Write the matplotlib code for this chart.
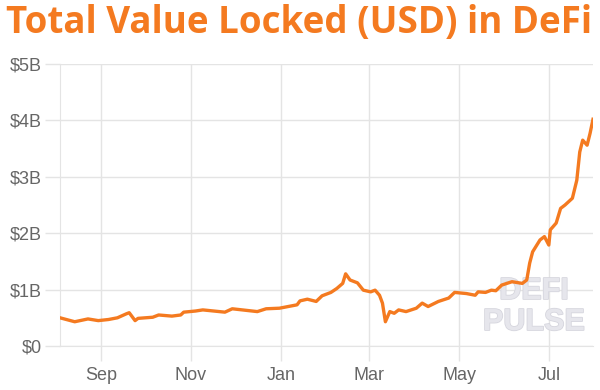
import matplotlib
matplotlib.use("Agg")
import matplotlib.pyplot as plt
import matplotlib.dates as mdates
import matplotlib.patheffects as pe
import numpy as np
import pandas as pd

# TVL in billions USD
dates = [
    "2019-08-04", "2019-08-14", "2019-08-23", "2019-08-30", "2019-09-06",
    "2019-09-12", "2019-09-18", "2019-09-20", "2019-09-24", "2019-09-26",
    "2019-10-06", "2019-10-10", "2019-10-19", "2019-10-25", "2019-10-27",
    "2019-11-04", "2019-11-09", "2019-11-24", "2019-11-29", "2019-12-16",
    "2019-12-22", "2019-12-31", "2020-01-12", "2020-01-14", "2020-01-19",
    "2020-01-25", "2020-01-29", "2020-02-04", "2020-02-08", "2020-02-12",
    "2020-02-14", "2020-02-17", "2020-02-22", "2020-02-26", "2020-03-02",
    "2020-03-05", "2020-03-08", "2020-03-10", "2020-03-12", "2020-03-15",
    "2020-03-18", "2020-03-21", "2020-03-26", "2020-04-02", "2020-04-06",
    "2020-04-10", "2020-04-17", "2020-04-24", "2020-04-28", "2020-05-06",
    "2020-05-12", "2020-05-14", "2020-05-19", "2020-05-23", "2020-05-26",
    "2020-05-30", "2020-06-06", "2020-06-13", "2020-06-16", "2020-06-18",
    "2020-06-20", "2020-06-25", "2020-06-28", "2020-07-01", "2020-07-02",
    "2020-07-06", "2020-07-09", "2020-07-12", "2020-07-17", "2020-07-20",
    "2020-07-22", "2020-07-24", "2020-07-27", "2020-07-29", "2020-07-31",
]
tvl = [
    0.50, 0.43, 0.48, 0.45, 0.47,
    0.50, 0.57, 0.59, 0.45, 0.49,
    0.51, 0.55, 0.53, 0.55, 0.60,
    0.62, 0.64, 0.60, 0.66, 0.61,
    0.66, 0.67, 0.73, 0.80, 0.83,
    0.79, 0.89, 0.95, 1.02, 1.11,
    1.28, 1.17, 1.12, 0.99, 0.96,
    0.99, 0.90, 0.76, 0.43, 0.61,
    0.58, 0.64, 0.61, 0.67, 0.76,
    0.70, 0.79, 0.85, 0.95, 0.93,
    0.90, 0.96, 0.95, 0.99, 0.98,
    1.08, 1.14, 1.11, 1.17, 1.47,
    1.67, 1.88, 1.94, 1.79, 2.06,
    2.18, 2.44, 2.50, 2.62, 2.94,
    3.44, 3.65, 3.56, 3.77, 4.02,
]
y_ticks = [0, 1, 2, 3, 4, 5]
y_labels = ["$0", "$1B", "$2B", "$3B", "$4B", "$5B"]

orange = "#f47a20"
grid_c = "#e4e4e4"
tick_c = "#666666"

plt.rcParams['font.family'] = ['Liberation Sans', 'DejaVu Sans']

fig = plt.figure(figsize=(6, 3.9), dpi=100)
ax = fig.add_axes([60/600, 44/390, 533/600, 282/390])

x = pd.to_datetime(dates)
ax.plot(x, tvl, color=orange, lw=2.4, zorder=3, solid_joinstyle='round')

ax.set_xlim(pd.Timestamp("2019-08-04"), pd.Timestamp("2020-07-31"))
ax.set_ylim(0, 5)
ax.set_yticks(y_ticks)
ax.set_yticklabels(y_labels)
ax.xaxis.set_major_locator(mdates.MonthLocator(bymonth=[1, 3, 5, 7, 9, 11]))
ax.xaxis.set_major_formatter(mdates.DateFormatter("%b"))

ax.grid(True, color=grid_c, lw=1)
ax.set_axisbelow(True)
for s in ["top", "right"]:
    ax.spines[s].set_visible(False)
for s in ["left", "bottom"]:
    ax.spines[s].set_color(grid_c)
ax.tick_params(axis='both', length=11, width=1, color=grid_c,
               labelcolor=tick_c, labelsize=13)
ax.tick_params(axis='y', pad=2)
ax.tick_params(axis='x', pad=4)

fig.text(0.498, 0.99, "Total Value Locked (USD) in DeFi", ha='center', va='top',
         color=orange, fontsize=26.5, fontweight='bold', family=['Open Sans', 'DejaVu Sans'])

wm = dict(ha='center', va='center', fontsize=22, fontweight='bold',
          color='#e6e6ec', zorder=2,
          path_effects=[pe.withStroke(linewidth=1.2, foreground='#d6d6de')])
ax.text(0.889, 0.195, "DEFI", transform=ax.transAxes, **wm)
ax.text(0.889, 0.085, "PULSE", transform=ax.transAxes, **wm)

fig.savefig("out.png", dpi=100, facecolor='white')
